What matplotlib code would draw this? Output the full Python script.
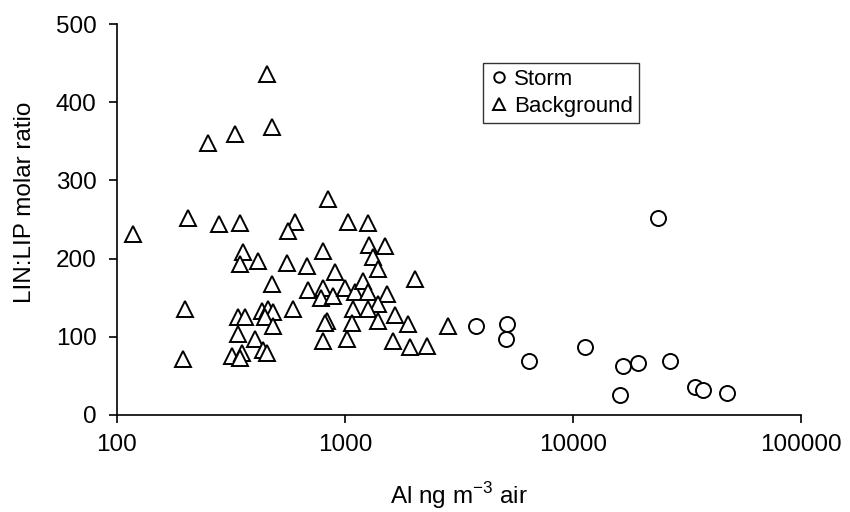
import matplotlib
matplotlib.use("Agg")
import matplotlib.pyplot as plt

plt.rcParams["font.family"] = ["Liberation Sans", "DejaVu Sans"]

# Storm samples (Al ng m-3, LIN:LIP ratio)
storm_al = [3741, 5150, 5070, 6412, 11290, 16630, 19350, 16070, 23680,
            26640, 34280, 37280, 47200]
storm_ratio = [114, 116, 97, 69.5, 87, 63, 67, 25.6, 251.5,
               69, 35.4, 32, 27.7]

# Background samples
background_al = [453, 477, 329, 252, 117, 205, 280, 346, 604, 564,
                 846, 1034, 1266, 1279, 1497, 1322, 1400, 2028, 358, 346,
                 417, 555, 679, 804, 904, 477, 690, 804, 782, 889,
                 1000, 1107, 1203, 1266, 1523, 1400, 1088, 1266, 1400, 1656,
                 1895, 2840, 1629, 1928, 2280, 1017, 804, 831, 820, 1069,
                 593, 199, 195, 340, 364, 431, 461, 485, 446, 485,
                 340, 403, 438, 453, 318, 352, 346]
background_ratio = [436, 368, 360, 348, 232, 251.5, 244, 246, 247, 235,
                    276, 247, 246, 217, 216, 201.6, 187, 173.5, 208, 193,
                    197, 194, 191, 210, 183, 167.5, 160, 163, 150, 152,
                    162, 157, 172, 157, 155, 142, 135, 136, 120.6, 127.5,
                    116, 114, 95, 86.5, 88, 97, 95, 120.6, 118, 118,
                    135, 135, 71, 125.7, 125.7, 133, 136, 132, 125, 114,
                    103.6, 97, 83, 79, 75, 79, 72.5]

x_ticks = [100, 1000, 10000, 100000]
y_ticks = [0, 100, 200, 300, 400, 500]

fig = plt.figure(figsize=(8.5, 5.12), dpi=100)
ax = fig.add_axes([0.1376, 0.1895, 0.8047, 0.7635])

ax.plot(storm_al, storm_ratio, linestyle="none", marker="o", ms=10.8,
        mfc="white", mec="black", mew=1.4, label="Storm")
ax.plot(background_al, background_ratio, linestyle="none", marker="^", ms=12.2,
        mfc="white", mec="black", mew=1.4, label="Background")

ax.set_xscale("log")
ax.set_xlim(100, 100000)
ax.set_ylim(0, 500)
ax.set_xticks(x_ticks)
ax.set_xticklabels([str(t) for t in x_ticks])
ax.minorticks_off()
ax.set_yticks(y_ticks)
ax.tick_params(axis="both", direction="out", length=5.8, width=1.2,
               labelsize=17.5, colors="black")
ax.tick_params(axis="x", pad=8)
ax.tick_params(axis="y", pad=9)
for side in ("top", "right"):
    ax.spines[side].set_visible(False)
for side in ("left", "bottom"):
    ax.spines[side].set_linewidth(1.2)

ax.set_xlabel("Al ng m$^{\\mathregular{-3}}$ air", fontsize=17.5, labelpad=17)
ax.set_ylabel("LIN:LIP molar ratio", fontsize=17.5, labelpad=15)
ax.yaxis.set_label_coords(-0.118, 0.545)

leg = ax.legend(loc="upper left", bbox_to_anchor=(0.5682, 0.877),
                bbox_transform=fig.transFigure, fontsize=16, markerscale=0.7,
                frameon=True, fancybox=False, edgecolor="black",
                handlelength=0.9, handletextpad=0.25, borderpad=0.25,
                labelspacing=0.3, borderaxespad=0)
leg.get_frame().set_linewidth(1.0)

fig.savefig("out.png", dpi=100)
